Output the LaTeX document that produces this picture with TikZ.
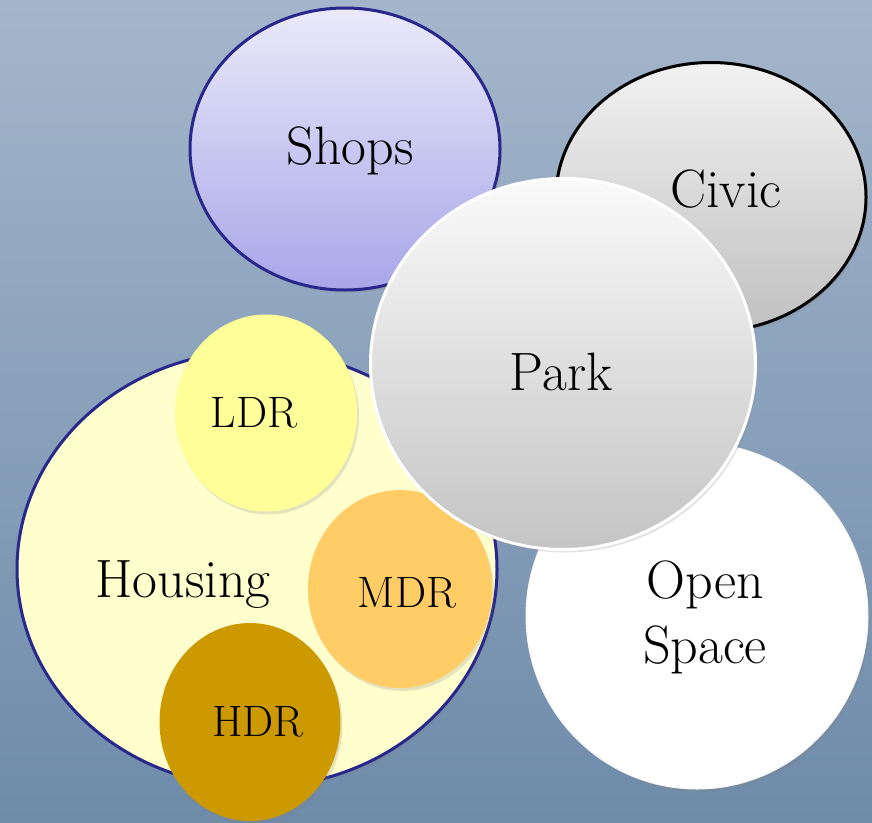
\documentclass[tikz,border=0pt]{standalone}
\usepackage{fontspec}
\usetikzlibrary{shapes.geometric,shadows}
\definecolor{bgtop}{RGB}{164,182,203}
\definecolor{bgbot}{RGB}{110,139,170}
\definecolor{navyline}{RGB}{40,40,140}
\definecolor{shopT}{RGB}{234,234,250}
\definecolor{shopB}{RGB}{168,166,232}
\definecolor{civT}{RGB}{242,242,242}
\definecolor{civB}{RGB}{192,192,192}
\definecolor{parkT}{RGB}{250,250,250}
\definecolor{parkB}{RGB}{196,196,196}
\definecolor{housefill}{RGB}{255,255,206}
\definecolor{ldrfill}{RGB}{255,255,153}
\definecolor{mdrfill}{RGB}{255,204,102}
\definecolor{hdrfill}{RGB}{204,153,0}
\begin{document}
\begin{tikzpicture}[x=1pt,y=-1pt,
  blob/.style={ellipse, inner sep=0pt, outer sep=0pt,
    drop shadow={opacity=0.22, shadow xshift=2pt, shadow yshift=-3pt}},
  lbl/.style={anchor=base, font=\fontsize{54}{66}\selectfont},
  slbl/.style={anchor=base, font=\fontsize{44}{52}\selectfont}]
\useasboundingbox (0,0) rectangle (872,822);
\shade[top color=bgtop, bottom color=bgbot] (0,0) rectangle (872,822);
% Shops
\node[blob, minimum width=310pt, minimum height=282pt, draw=navyline,
  line width=3pt, top color=shopT, bottom color=shopB] (shops) at (345,149) {};
% Civic
\node[blob, minimum width=310pt, minimum height=269pt, draw=black,
  line width=3pt, top color=civT, bottom color=civB] (civic) at (711,197) {};
% Housing
\node[blob, minimum width=480pt, minimum height=436pt, draw=navyline,
  line width=3pt, fill=housefill] (housing) at (257,569) {};
\node[blob, minimum width=182pt, minimum height=197pt, fill=ldrfill] (ldr) at (266,413) {};
\node[blob, minimum width=184pt, minimum height=198pt, fill=mdrfill] (mdr) at (400,589) {};
\node[blob, minimum width=181pt, minimum height=198pt, fill=hdrfill] (hdr) at (250,722) {};
% Open space
\node[blob, minimum width=342pt, minimum height=346pt, draw=white!92!gray,
  line width=1pt, fill=white] (open) at (697,616) {};
% Park
\node[blob, minimum width=385pt, minimum height=371pt, draw=white,
  line width=3pt, top color=parkT, bottom color=parkB] (park) at (563,364) {};
% Labels
\node[lbl] (tshops) at (350,164) {Shops};
\node[lbl] (tcivic) at (726,207) {Civic};
\node[lbl] (tpark) at (561,390) {Park};
\node[lbl] (thousing) at (183,597) {Housing};
\node[slbl] (tldr) at (254,427) {LDR};
\node[slbl] (tmdr) at (407,607) {MDR};
\node[slbl] (thdr) at (258,736) {HDR};
\node[align=center, font=\fontsize{54}{65}\selectfont, inner sep=0pt] (topen) at (705,617) {Open\\Space};
\end{tikzpicture}
\end{document}
